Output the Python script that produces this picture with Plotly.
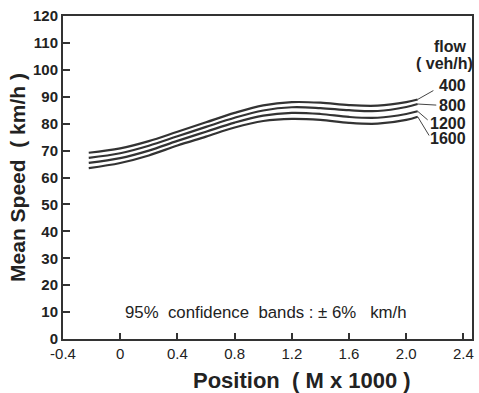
import plotly.graph_objects as go

position = [-0.22, 0.0, 0.2, 0.4, 0.6, 0.8, 1.0, 1.2, 1.4, 1.6, 1.8, 2.0, 2.08]
flows = ["400", "800", "1200", "1600"]
speed_400 = [69.2, 70.8, 73.5, 77.0, 80.5, 84.0, 86.8, 88.0, 87.8, 86.9, 86.7, 88.0, 89.0]
speed_800 = [67.3, 69.0, 71.8, 75.3, 78.8, 82.2, 84.9, 86.1, 85.8, 85.0, 84.7, 86.2, 87.3]
speed_1200 = [65.4, 67.2, 70.0, 73.6, 77.0, 80.4, 83.0, 84.0, 83.6, 82.5, 82.2, 83.6, 84.6]
speed_1600 = [63.5, 65.4, 68.2, 71.9, 75.2, 78.6, 81.0, 81.8, 81.4, 80.3, 80.0, 81.4, 82.6]
series = [speed_400, speed_800, speed_1200, speed_1600]
x_ticks = [-0.4, 0, 0.4, 0.8, 1.2, 1.6, 2.0, 2.4]
x_tick_text = ["-0.4", "0", "0.4", "0.8", "1.2", "1.6", "2.0", "2.4"]
y_ticks = list(range(0, 121, 10))

# label placement (layout, not data)
label_x = 2.435
label_y = [94.2, 86.6, 80.0, 74.4]
leader_end = [(2.19, 92.3), (2.21, 86.9), (2.15, 81.4), (2.16, 75.6)]

FONT = "Liberation Sans, Arial, sans-serif"
INK = "#222222"
NB = "\u00a0"

fig = go.Figure()
for name, ys in zip(flows, series):
    fig.add_trace(go.Scatter(x=position, y=ys, mode="lines", name=name,
                             line=dict(color="#333333", width=2.2, shape="spline", smoothing=1.0),
                             showlegend=False))

for name, ys, ly, (ex, ey) in zip(flows, series, label_y, leader_end):
    fig.add_shape(type="line", x0=position[-1], y0=ys[-1], x1=ex, y1=ey,
                  line=dict(color="#444444", width=1))
    fig.add_annotation(x=label_x, y=ly, text=name, showarrow=False,
                       xanchor="right", yanchor="middle",
                       font=dict(family=FONT, size=16, color=INK, weight="bold"))

fig.add_annotation(x=2.31, y=108.8, text="flow", showarrow=False,
                   font=dict(family=FONT, size=16, color=INK, weight="bold"))
fig.add_annotation(x=2.27, y=102.2, text="(" + NB + "veh/h)", showarrow=False,
                   font=dict(family=FONT, size=16, color=INK, weight="bold"))
conf_text = ("95%" + NB * 2 + "confidence" + NB * 2 + "bands" + NB + ":" + NB + "\u00b1" + NB
             + "6%" + NB * 3 + "km/h")
fig.add_annotation(x=1.02, y=9.8, text=conf_text, showarrow=False,
                   font=dict(family=FONT, size=16.8, color=INK))

x_title = "Position" + NB * 2 + "(" + NB + "M" + NB + "x" + NB + "1000" + NB + ")"
y_title = "Mean" + NB + "Speed" + NB * 2 + "(" + NB + "km/h" + NB + ")"

fig.add_annotation(xref="paper", yref="paper", x=0.585, y=-0.128, text=x_title,
                   showarrow=False, xanchor="center", yanchor="middle",
                   font=dict(size=22, family=FONT, color=INK, weight="bold"))

fig.update_layout(
    width=479, height=393,
    margin=dict(l=63, r=5, t=16, b=54),
    paper_bgcolor="white", plot_bgcolor="white",
    font=dict(family=FONT, color=INK),
    xaxis=dict(range=[-0.4, 2.46], tickvals=x_ticks, ticktext=x_tick_text,
               ticks="inside", ticklen=6, tickwidth=1.5, tickcolor="#333",
               showline=True, linecolor="#333", linewidth=2, mirror=True,
               showgrid=False, zeroline=False,
               tickfont=dict(size=15, family=FONT, color=INK)),
    yaxis=dict(range=[0, 120], tickvals=y_ticks,
               ticks="inside", ticklen=7, tickwidth=1.5, tickcolor="#333",
               showline=True, linecolor="#333", linewidth=2, mirror=True,
               showgrid=False, zeroline=False,
               tickfont=dict(size=15, family=FONT, color=INK, weight="bold"),
               title=dict(text=y_title, standoff=2,
                          font=dict(size=21, family=FONT, color=INK, weight="bold"))),
)

fig.write_html("out.html", config={"displayModeBar": False},
               post_script="document.body.style.margin='0';")
